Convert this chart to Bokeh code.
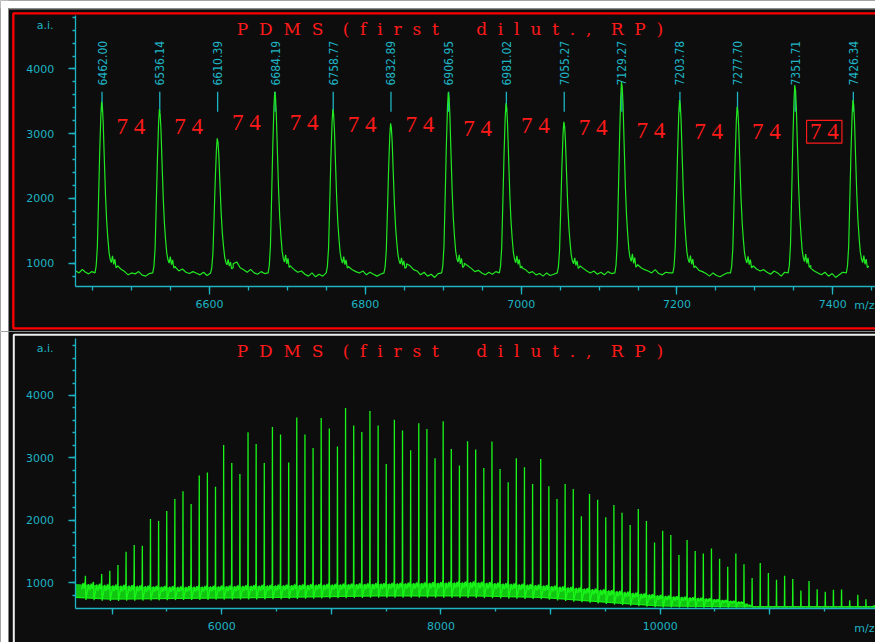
import numpy as np
from math import pi
from bokeh.plotting import figure
from bokeh.layouts import column
from bokeh.models import FixedTicker, Label, BoxAnnotation, Range1d
from bokeh.core.properties import value
from bokeh.embed import file_html
from bokeh.resources import INLINE

# ---------------- data ----------------
peak_mz = [4755.9, 4830.0, 4904.2, 4978.4, 5052.6, 5126.8, 5201.0, 5275.1, 5349.3, 5423.5,
           5497.7, 5571.8, 5646.0, 5720.2, 5794.4, 5868.6, 5942.7, 6016.9, 6091.1, 6165.3,
           6239.5, 6313.6, 6387.8,
           6462.00, 6536.14, 6610.39, 6684.19, 6758.77, 6832.89, 6906.95, 6981.02, 7055.27,
           7129.27, 7203.78, 7277.70, 7351.71, 7426.34,
           7500.5, 7574.7, 7648.9, 7723.1, 7797.2, 7871.4, 7945.6, 8019.8, 8094.0, 8168.1,
           8242.3, 8316.5, 8390.7, 8464.9, 8539.0, 8613.2, 8687.4, 8761.6, 8835.8, 8909.9,
           8984.1, 9058.3, 9132.5, 9206.7, 9280.8, 9355.0, 9429.2, 9503.4, 9577.6, 9651.7,
           9725.9, 9800.1, 9874.3, 9948.5, 10022.6, 10096.8, 10171.0, 10245.2, 10319.4, 10393.5,
           10467.7, 10541.9, 10616.1, 10690.3, 10764.4, 10838.6, 10912.8, 10987.0, 11061.2, 11135.3,
           11209.5, 11283.7, 11357.9, 11432.1, 11506.2, 11580.4, 11654.6, 11728.8, 11803.0, 11877.1,
           11951.3]

peak_height = [1112, 1005, 1139, 1193, 1283, 1497, 1604, 1594, 2021, 1989,
               2150, 2342, 2465, 2262, 2717, 2765, 2540, 3209, 2920, 2743,
               3412, 3225, 2920,
               3494, 3377, 2928, 3649, 3377, 3160, 3640, 3470, 3185, 3800, 3521, 3417, 3753, 3521,
               2904, 3610, 3439, 3123, 3556, 3465, 2995, 3588, 3144, 2877, 3267, 3134,
               2840, 3262, 2824, 2610, 2995, 2850, 2583, 2984, 2545, 2342,
               2583, 2503, 2064, 2422, 2332, 2048, 2246, 2123, 1925, 2182,
               1989, 1647, 1834, 1765, 1444, 1684, 1508, 1471, 1551, 1385,
               1257, 1471, 1299, 1075, 1316, 1155, 1048, 1112, 1059, 877,
               1027, 898, 856, 888, 893, 722, 807, 738, 642]

# peaks labelled in the zoomed (upper) view
labelled_mz = [6462.00, 6536.14, 6610.39, 6684.19, 6758.77, 6832.89, 6906.95,
               6981.02, 7055.27, 7129.27, 7203.78, 7277.70, 7351.71, 7426.34]
labelled_text = ["6462.00", "6536.14", "6610.39", "6684.19", "6758.77", "6832.89", "6906.95",
                 "6981.02", "7055.27", "7129.27", "7203.78", "7277.70", "7351.71", "7426.34"]
gap_text = "7 4"
gap_label_y = [3119, 3108, 3170, 3170, 3145, 3145, 3083, 3134, 3093, 3046, 3030, 3030, 3030]

# baseline readings of the upper view (before first peak, then between peaks)
baseline_top = [
    [880, 850, 905, 860, 835, 870],
    [960, 905, 870, 820, 850, 835, 870, 815, 800, 840],
    [940, 880, 910, 860, 840, 870, 845, 820, 860, 810],
    [990, 1020, 930, 900, 860, 905, 850, 830, 870, 840],
    [950, 900, 860, 880, 830, 800, 850, 790, 830, 800],
    [940, 900, 870, 850, 880, 820, 860, 830, 800, 830],
    [990, 960, 900, 880, 820, 860, 800, 830, 780, 840],
    [1000, 960, 920, 870, 890, 850, 820, 860, 830, 870],
    [930, 900, 850, 870, 820, 840, 800, 850, 810, 830],
    [960, 920, 880, 850, 880, 830, 860, 820, 870, 840],
    [980, 930, 900, 880, 850, 900, 840, 820, 860, 850],
    [950, 890, 870, 840, 800, 850, 810, 790, 820, 850],
    [960, 910, 880, 900, 860, 830, 880, 850, 800, 860],
    [920, 880, 850, 820, 860, 800, 840, 780, 820, 860],
]

# noise band of the full view (upper / lower envelope)
band_mz = [4665, 4990, 5600, 6500, 7420, 8300, 8920, 9530, 9990, 10440, 10750, 10850, 12000]
band_hi = [980, 950, 925, 950, 975, 1000, 950, 870, 790, 740, 690, 615, 615]
band_lo = [765, 740, 750, 765, 790, 790, 765, 685, 630, 620, 615, 615, 615]

title_words = ["PDMS", "(first", "dilut.,", "RP)"]
top_xticks = [6600, 6800, 7000, 7200, 7400]
top_xminor = list(range(6450, 7500, 50))
bot_xticks = [5000, 6000, 7000, 8000, 9000, 10000, 11000]
bot_xminor = list(range(5000, 12500, 500))
bot_xhidden = {5000: "", 7000: "", 9000: "", 11000: ""}
y_major = [1000, 2000, 3000, 4000]
y_minor = list(range(800, 5000, 200))

# ---------------- style ----------------
BG = "#0d0d0d"
CY = "#1fb3c3"
GREEN = "#22e822"
RED = "#ff1a1a"
W = 875

# peak glyph shape of the upper view (offset in Da, fraction of height above base level)
PROFILE_DM = [-9, -7.5, -6, -4.5, -3, -1.5, -0.5, 0.5, 1.5, 3, 4.5, 6, 7.5, 9, 10.5, 12, 13.5, 15, 16.5, 18, 20]
PROFILE_F = [0.0, 0.04, 0.15, 0.42, 0.7, 0.92, 1.0, 0.97, 0.88, 0.66, 0.45, 0.3, 0.2, 0.12, 0.08, 0.06, 0.1, 0.05, 0.08, 0.03, 0.04]
BASE = 850
# peak glyph shape of the full view (offset in Da, position inside the noise band; None = peak top)
STICK_DM = [-33, -22, -12, -5, -2, 0, 2, 5, 10, 18, 27, 37]
STICK_F = [0.6, 1.1, 0.7, 1.15, 1.2, None, 0.3, -0.15, 0.2, 0.5, 1.05, 0.6]


def style_axes(p, xt, xm, xtick_out, xminor_out, xstand, overrides=None):
    p.xaxis.ticker = FixedTicker(ticks=xt, minor_ticks=xm)
    p.yaxis.ticker = FixedTicker(ticks=y_major, minor_ticks=y_minor)
    for ax in p.axis:
        ax.axis_line_color = CY
        ax.axis_line_width = 1.3
        ax.major_tick_line_color = CY
        ax.minor_tick_line_color = CY
        ax.major_tick_line_width = 1.3
        ax.minor_tick_line_width = 1.3
        ax.major_label_text_color = CY
        ax.major_label_text_font = "DejaVu Sans"
        ax.major_label_text_font_size = "11px"
        ax.major_tick_in = 0
        ax.minor_tick_in = 0
    p.yaxis.major_tick_out = 7
    p.yaxis.minor_tick_out = 3
    p.yaxis.major_label_standoff = 14
    p.xaxis.major_tick_out = xtick_out
    p.xaxis.minor_tick_out = xminor_out
    p.xaxis.major_label_standoff = xstand
    if overrides:
        p.xaxis.major_label_overrides = overrides
    p.grid.visible = False


def title_text():
    sep = "\u2007"
    parts = [sep.join(w) for w in title_words]
    return parts[0] + "\u2007\u2002" + parts[1] + "\u2003\u2003\u2009" + parts[2] + "\u2007\u2002" + parts[3]


def add_common_labels(p, title_y, ai_y, mz_y):
    p.add_layout(Label(x=449.5, y=title_y, x_units="canvas", y_units="canvas", text=title_text(),
                       text_align="center", text_baseline="alphabetic", text_color=RED,
                       text_font="DejaVu Serif", text_font_size="17px"))
    p.add_layout(Label(x=53, y=ai_y, x_units="canvas", y_units="canvas", text="a.i.",
                       text_align="right", text_baseline="middle", text_color=CY,
                       text_font="DejaVu Sans", text_font_size="11px"))
    p.add_layout(Label(x=874, y=mz_y, x_units="canvas", y_units="canvas", text="m/z",
                       text_align="right", text_baseline="middle", text_color=CY,
                       text_font="DejaVu Sans", text_font_size="11px"))


def canvas_box(p, left, right, top, bottom, fill=None, line=None, lw=1.0):
    p.add_layout(BoxAnnotation(left=left, right=right, top=top, bottom=bottom,
                               left_units="canvas", right_units="canvas",
                               top_units="canvas", bottom_units="canvas",
                               fill_color=fill, fill_alpha=1.0 if fill else 0.0,
                               line_color=line, line_alpha=1.0, line_width=lw))


def make_fig(height, xr, yr):
    p = figure(width=W, height=height, x_range=Range1d(*xr), y_range=Range1d(*yr),
               output_backend="svg", toolbar_location=None,
               background_fill_color=BG, border_fill_color=BG, outline_line_color=None)
    p.min_border = 0
    p.min_border_left = 0
    p.min_border_right = 0
    p.min_border_top = 0
    p.min_border_bottom = 0
    return p


# ---------------- upper (zoomed) panel ----------------
top = make_fig(331, (6331.7, 7454.8), (-55.2, 5058.2))
style_axes(top, top_xticks, top_xminor, 8, 4, 5)
top.xaxis.fixed_location = 632.3
top.xaxis.bounds = (6428, 7500)
top.yaxis.fixed_location = 6427.5
top.yaxis.bounds = (632.3, 4826)

# cyan peak markers under the labels
top.segment(x0=labelled_mz, y0=[3649] * len(labelled_mz), x1=labelled_mz, y1=[3340] * len(labelled_mz),
            line_color=CY, line_width=1.3)

# spectrum line
sx, sy = [], []
prev_end = 6428.5
idx0 = peak_mz.index(labelled_mz[0])
for i, m in enumerate(labelled_mz):
    h = peak_height[idx0 + i]
    gap = baseline_top[i]
    gx = np.linspace(prev_end, m + PROFILE_DM[0], len(gap) + 1)[:-1]
    sx.extend(gx.tolist())
    sy.extend(gap)
    for dm, f in zip(PROFILE_DM, PROFILE_F):
        sx.append(m + dm)
        sy.append(BASE + f * (h - BASE))
    prev_end = m + PROFILE_DM[-1]
top.line(sx, sy, line_color=GREEN, line_width=1.2)

# vertical mass labels
top.text(x=labelled_mz, y=[3745] * len(labelled_mz), text=labelled_text, angle=pi / 2,
         text_align="left", text_baseline="middle", text_color=CY,
         text_font=value("DejaVu Sans Condensed"), text_font_size="12px")

# "74" spacing labels between neighbouring peaks
mids = [(a + b) / 2 for a, b in zip(labelled_mz[:-1], labelled_mz[1:])]
top.text(x=mids, y=gap_label_y, text=[gap_text] * len(mids), text_align="center",
         text_baseline="middle", text_color=RED, text_font=value("Liberation Serif"),
         text_font_size="23px")
top.rect(x=[mids[-1]], y=[gap_label_y[-1]], width=45.4, height=352, fill_color=None,
         line_color=RED, line_width=1.2)

add_common_labels(top, 28.3, 25, 305)
canvas_box(top, 0, 8, 0, 2000, fill="#ffffff")
canvas_box(top, 0, 2000, 0, 7.4, fill="#ffffff")
canvas_box(top, 8, 2000, 7.4, 9, fill="#8a8a8a")
canvas_box(top, 12.85, 2000, 12.85, 327.85, line="#ff0000", lw=2.3)

# ---------------- lower (full) panel ----------------
bot = make_fig(311, (3981, 11964.4), (43.7, 5025.1))
style_axes(bot, bot_xticks, bot_xminor, 6, 3, 7, bot_xhidden)
bot.xaxis.fixed_location = 583.5
bot.xaxis.bounds = (4665, 12000)
bot.yaxis.fixed_location = 4661.5
bot.yaxis.bounds = (583.5, 4918)

bot.varea(x=band_mz, y1=band_lo, y2=band_hi, fill_color="#12d812", fill_alpha=0.9)
bot.line(band_mz, band_lo, line_color="#14f014", line_width=1.2)
lo_at = lambda m: float(np.interp(m, band_mz, band_lo))
hi_at = lambda m: float(np.interp(m, band_mz, band_hi))
pxs, pys = [], []
for m, h in zip(peak_mz, peak_height):
    xs_, ys_ = [], []
    for dm, f in zip(STICK_DM, STICK_F):
        x = m + dm
        if x < 4666:
            continue
        xs_.append(x)
        ys_.append(h if f is None else lo_at(x) + f * (hi_at(x) - lo_at(x)))
    pxs.append(xs_)
    pys.append(ys_)
bot.multi_line(xs=pxs, ys=pys, line_color="#19f519", line_width=1.3)

add_common_labels(bot, 19.7, 16.5, 297)
canvas_box(bot, 0, 8, 0, 2000, fill="#ffffff")
canvas_box(bot, 13.3, 2000, 3.3, 2000, line="#f0f0f0", lw=2)

layout = column(top, bot, spacing=0)
open("out.html", "w").write(file_html(layout, INLINE))
